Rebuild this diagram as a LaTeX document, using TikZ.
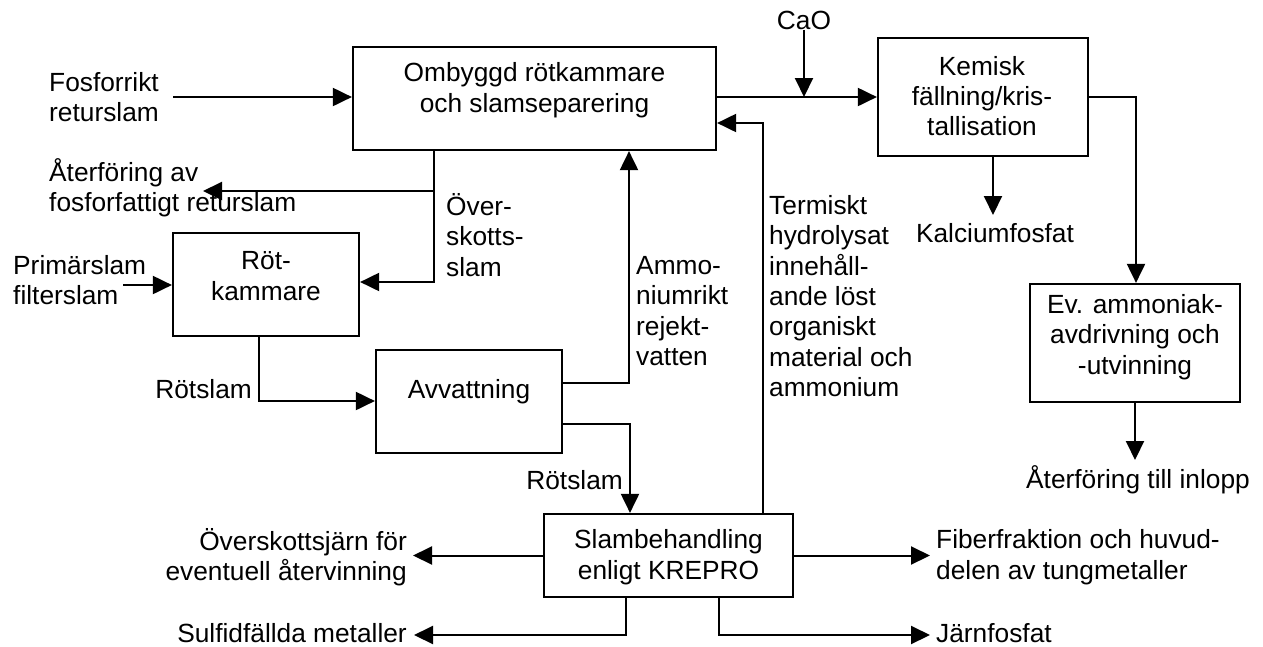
\documentclass[tikz,border=0pt]{standalone}
\usepackage{fontspec}
\setmainfont{Liberation Sans}
\usetikzlibrary{arrows.meta,calc}
\begin{document}
\begin{tikzpicture}[x=1pt,y=-1pt,
  every node/.style={font=\fontsize{26.3}{30.4}\selectfont, inner sep=0pt},
  box/.style={draw, line width=2.2pt, rectangle, inner sep=0pt},
  conn/.style={line width=2pt},
  arr/.style={conn, -{Triangle[length=19pt,width=18pt]}},
]
\useasboundingbox (0,0) rectangle (1263,646);

% boxes
\node[box, minimum width=363pt, minimum height=103pt] (b1) at (534.5,98.5) {};
\node[align=center] (b1t) at (534.5,90) {Ombyggd rötkammare\\och slamseparering};
\node[box, minimum width=210pt, minimum height=118pt] (kem) at (983,97) {};
\node[align=center] (kemt) at (982,96) {Kemisk\\fällning/kris-\\tallisation};
\node[box, minimum width=186pt, minimum height=103pt] (rot) at (266,284.5) {};
\node[align=center] (rott) at (266,276) {Röt-\\kammare};
\node[box, minimum width=186pt, minimum height=103pt] (avv) at (469,401.5) {};
\node (avvt) at (469,392) {Avvattning};
\node[box, minimum width=249pt, minimum height=83pt] (slam) at (668.5,555.5) {};
\node[align=center] (slamt) at (668.5,557) {Slambehandling\\enligt KREPRO};
\node[box, minimum width=210pt, minimum height=118pt] (ev) at (1135,343) {};
\node[align=center] (evt) at (1135,337) {Ev. ammoniak-\\avdrivning och\\-utvinning};

% labels
\node[anchor=west, align=left] (fos) at (49,97) {Fosforrikt\\returslam};
\node[anchor=west, align=left] (atf) at (49,188) {Återföring av\\fosforfattigt returslam};
\node[anchor=west, align=left] (prim) at (13,280) {Primärslam\\filterslam};
\node[anchor=west, align=left] (ovl) at (446,235) {Över-\\skotts-\\slam};
\node[anchor=west, align=left] (aml) at (636,311) {Ammo-\\niumrikt\\rejekt-\\vatten};
\node[anchor=west, align=left] (tel) at (769,296) {Termiskt\\hydrolysat\\innehåll-\\ande löst\\organiskt\\material och\\ammonium};
\node (cao) at (804,20) {CaO};
\node (kfl) at (995,233) {Kalciumfosfat};
\node[anchor=east] (rs1l) at (252,389) {Rötslam};
\node[anchor=east] (rs2l) at (623,480) {Rötslam};
\node[anchor=east, align=right] (ojl) at (407,557.5) {Överskottsjärn för\\eventuell återvinning};
\node[anchor=east] (sfl) at (407,633) {Sulfidfällda metaller};
\node[anchor=west, align=left] (fibl) at (936,557) {Fiberfraktion och huvud-\\delen av tungmetaller};
\node[anchor=west] (jfl) at (936,633) {Järnfosfat};
\node (atil) at (1138,480) {Återföring till inlopp};

% coordinates
\coordinate (fosin) at (173,97);
\coordinate (ovbot) at (434,282);
\coordinate (atfmid) at (434,191);
\coordinate (atftip) at (203,191);
\coordinate (primin) at (123,285);
\coordinate (rs1) at (259,401);
\coordinate (am) at (629,383);
\coordinate (av2) at (630,424);
\coordinate (te) at (763,123);
\coordinate (kr) at (1136,97);
\coordinate (kf) at (993,215);
\coordinate (evtip) at (1135,460);
\coordinate (ojtip) at (413,555);
\coordinate (fibtip) at (930,554);
\coordinate (sb1) at (626,635);
\coordinate (sb1tip) at (414,635);
\coordinate (sb2) at (719,635);

% connectors
\draw[arr] (fosin) -- (fosin -| b1.west);
\draw[arr] (kem.west -| b1.east) -- (kem.west);
\draw[arr] (cao.south) -- (cao.south |- kem.west);
\draw[arr] (b1.south -| ovbot) -- (ovbot) -- (ovbot -| rot.east);
\draw[arr] (atfmid) -- (atftip);
\draw[arr] (primin) -- (primin -| rot.west);
\draw[arr] (rot.south -| rs1) -- (rs1) -- (rs1 -| avv.west);
\draw[arr] (am -| avv.east) -- (am) -- (am |- b1.south);
\draw[arr] (av2 -| avv.east) -- (av2) -- (av2 |- slam.north);
\draw[arr] (te |- slam.north) -- (te) -- (te -| b1.east);
\draw[arr] (kem.east |- kr) -- (kr) -- (kr |- ev.north);
\draw[arr] (kem.south -| kf) -- (kf);
\draw[arr] (ev.south) -- (evtip);
\draw[arr] (slam.west) -- (slam.west -| ojtip);
\draw[arr] (slam.east) -- (slam.east -| fibtip);
\draw[arr] (slam.south -| sb1) -- (sb1) -- (sb1tip);
\draw[arr] (slam.south -| sb2) -- (sb2) -- (sb2 -| fibtip);
\end{tikzpicture}
\end{document}
